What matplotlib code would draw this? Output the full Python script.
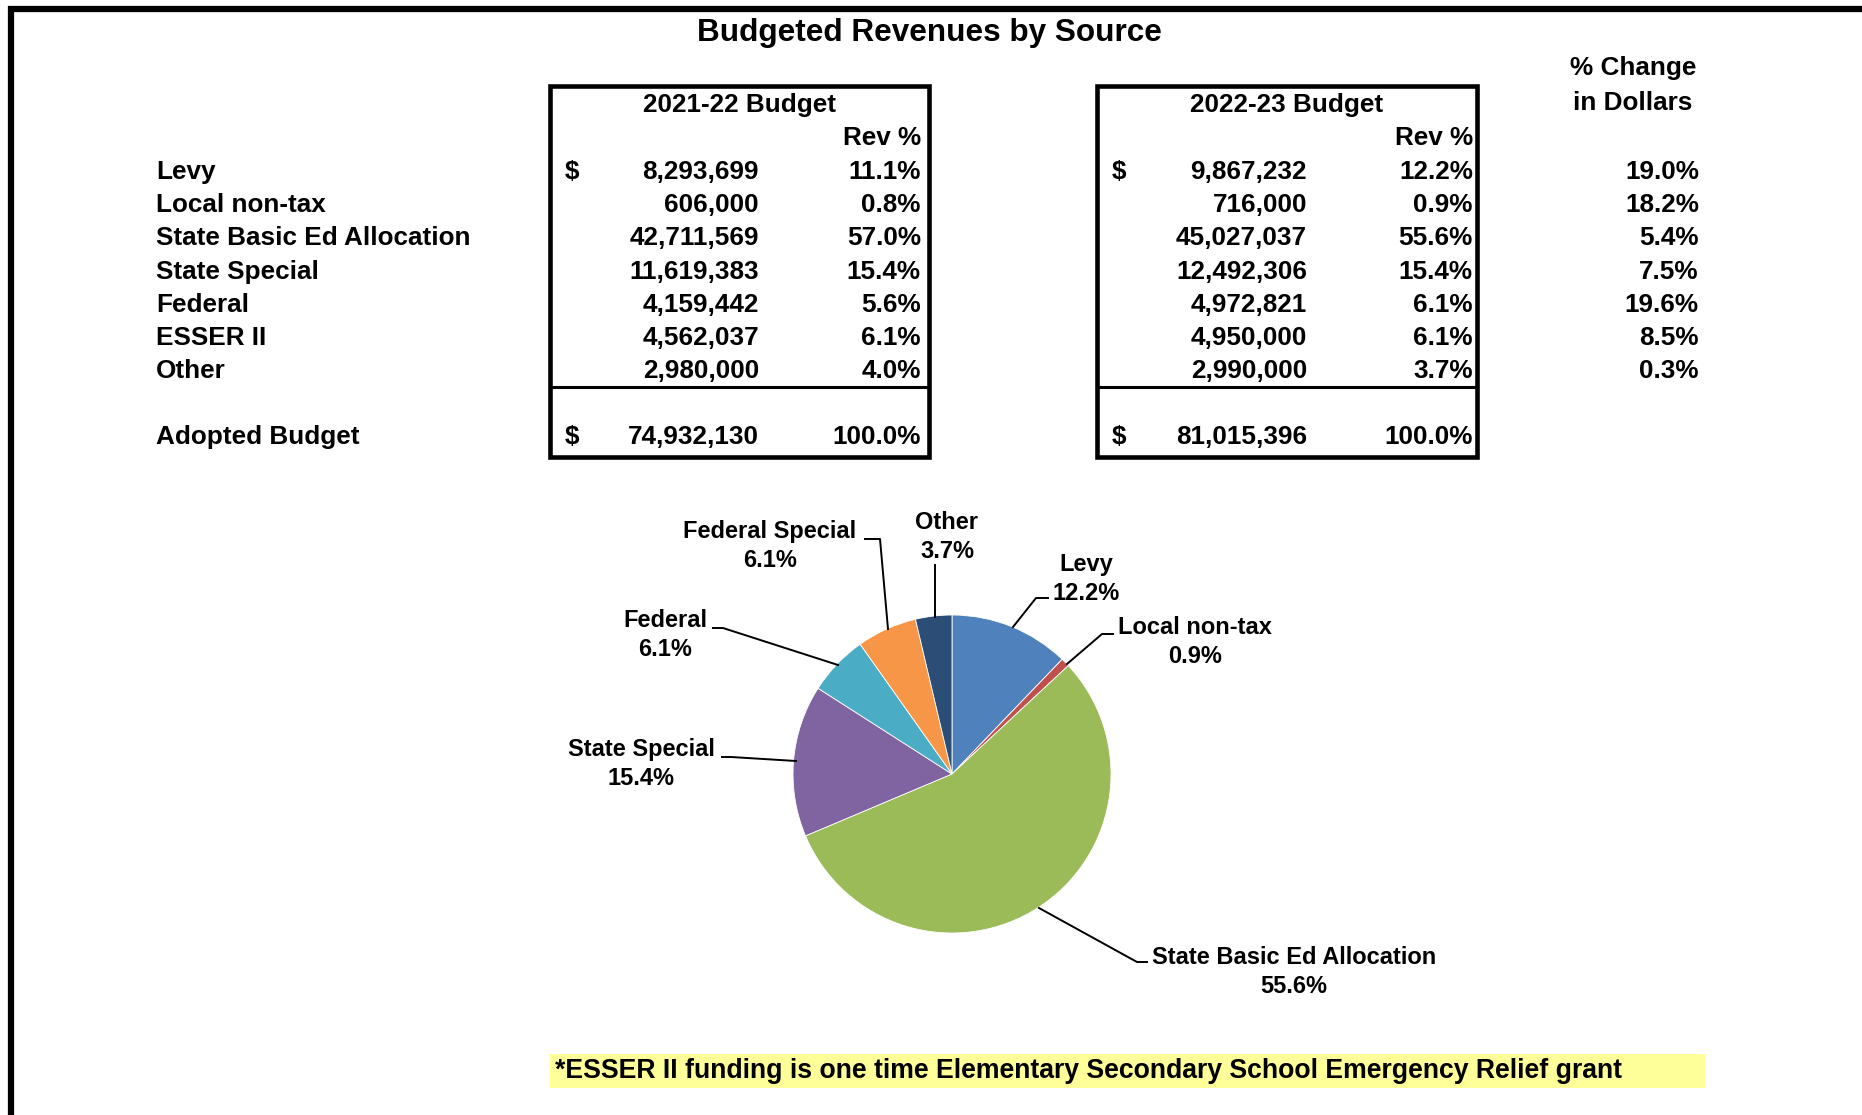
import matplotlib
matplotlib.use("Agg")
import matplotlib.pyplot as plt
from matplotlib.patches import Rectangle

plt.rcParams["font.family"] = ["Liberation Sans", "DejaVu Sans"]
plt.rcParams["font.weight"] = "bold"

W, H = 1862, 1115

# ---- data ----
sources = ["Levy", "Local non-tax", "State Basic Ed Allocation", "State Special",
           "Federal", "ESSER II", "Other"]
budget_2122 = [8293699, 606000, 42711569, 11619383, 4159442, 4562037, 2980000]
rev_pct_2122 = ["11.1%", "0.8%", "57.0%", "15.4%", "5.6%", "6.1%", "4.0%"]
budget_2223 = [9867232, 716000, 45027037, 12492306, 4972821, 4950000, 2990000]
rev_pct_2223 = ["12.2%", "0.9%", "55.6%", "15.4%", "6.1%", "6.1%", "3.7%"]
pct_change = ["19.0%", "18.2%", "5.4%", "7.5%", "19.6%", "8.5%", "0.3%"]
total_2122 = 74932130
total_2223 = 81015396

pie_labels = ["Levy", "Local non-tax", "State Basic Ed Allocation", "State Special",
              "Federal", "Federal Special", "Other"]
pie_colors = ["#4F81BD", "#C0504D", "#9BBB59", "#8064A2", "#4BACC6", "#F79646", "#2C4D75"]

fig = plt.figure(figsize=(W / 100, H / 100), dpi=100)
ax = fig.add_axes([0, 0, 1, 1])


def Y(y):
    # pixel row (from top) -> data y
    return H - y


# outer frame (top + left only, the rest is cropped)
ax.plot([11, 11, W], [Y(H), Y(9), Y(9)], color="black", lw=4.5,
        solid_joinstyle="miter", solid_capstyle="butt")

ax.text(929, Y(33), "Budgeted Revenues by Source", ha="center", va="center",
        fontsize=22.7)

fs = 18.8
row_y = [171.7 + 33.3 * i for i in range(len(sources))]
total_y = 436.7

for name, y in zip(sources, row_y):
    ax.text(156, Y(y), name, ha="left", va="center", fontsize=fs)
ax.text(156, Y(total_y), "Adopted Budget", ha="left", va="center", fontsize=fs)

tables = [
    dict(x0=550, x1=929, title="2021-22 Budget", vals=budget_2122,
         pcts=rev_pct_2122, total=total_2122, xd=565, xv=759, xp=921),
    dict(x0=1097, x1=1477, title="2022-23 Budget", vals=budget_2223,
         pcts=rev_pct_2223, total=total_2223, xd=1112, xv=1307, xp=1473),
]
for t in tables:
    ax.add_patch(Rectangle((t["x0"], Y(457)), t["x1"] - t["x0"], 457 - 86,
                           fill=False, ec="black", lw=3.3, joinstyle="miter"))
    ax.plot([t["x0"], t["x1"]], [Y(387), Y(387)], color="black", lw=2.2)
    ax.text((t["x0"] + t["x1"]) / 2, Y(105), t["title"], ha="center",
            va="center", fontsize=fs)
    ax.text(t["xp"], Y(138.3), "Rev %", ha="right", va="center", fontsize=fs)
    for i, (v, p, y) in enumerate(zip(t["vals"], t["pcts"], row_y)):
        if i == 0:
            ax.text(t["xd"], Y(y), "$", ha="left", va="center", fontsize=fs)
        ax.text(t["xv"], Y(y), f"{v:,}", ha="right", va="center", fontsize=fs)
        ax.text(t["xp"], Y(y), p, ha="right", va="center", fontsize=fs)
    ax.text(t["xd"], Y(total_y), "$", ha="left", va="center", fontsize=fs)
    ax.text(t["xv"], Y(total_y), f"{t['total']:,}", ha="right", va="center",
            fontsize=fs)
    ax.text(t["xp"], Y(total_y), "100.0%", ha="right", va="center", fontsize=fs)

ax.text(1633, Y(68), "% Change", ha="center", va="center", fontsize=fs)
ax.text(1633, Y(103.5), "in Dollars", ha="center", va="center", fontsize=fs)
for p, y in zip(pct_change, row_y):
    ax.text(1699, Y(y), p, ha="right", va="center", fontsize=fs)

# ---- pie ----
cx, cy, r = 952, 774, 159
ax.pie(budget_2223, colors=pie_colors, startangle=90, counterclock=False,
       center=(cx, Y(cy)), radius=r, frame=True,
       wedgeprops=dict(edgecolor="white", linewidth=0.6))

# label text position (center) and leader polyline (text end -> wedge)
label_pos = [(1086, 579), (1195, 642), (1294, 972), (641, 764),
             (665, 635), (770, 546), (947, 537)]
leaders = [
    [(1048, 598), (1036, 598), (1013, 627)],
    [(1113, 634), (1102, 634), (1067, 664)],
    [(1147, 962), (1137, 962), (1039, 908)],
    [(722, 757), (731, 757), (796, 761)],
    [(713, 628), (723, 628), (838, 665)],
    [(865, 539), (880, 539), (888, 629)],
    [(935, 565), (935, 617)],
]
for lab, pct, (lx, ly), pts in zip(pie_labels, rev_pct_2223, label_pos, leaders):
    ax.text(lx, Y(ly), f"{lab}\n{pct}", ha="center", va="center",
            fontsize=17, linespacing=1.3)
    ax.plot([p[0] for p in pts], [Y(p[1]) for p in pts], color="black", lw=1.4)

# ---- footnote ----
ax.add_patch(Rectangle((550, Y(1088)), 1705 - 550, 1088 - 1054,
                       color="#FFFF99", lw=0))
ax.text(555, Y(1071), "*ESSER II funding is one time Elementary Secondary "
        "School Emergency Relief grant", ha="left", va="center", fontsize=19.2)

ax.set_xlim(0, W)
ax.set_ylim(0, H)
ax.set_aspect("auto")
ax.axis("off")

fig.savefig("out.png", dpi=100, facecolor="white")
